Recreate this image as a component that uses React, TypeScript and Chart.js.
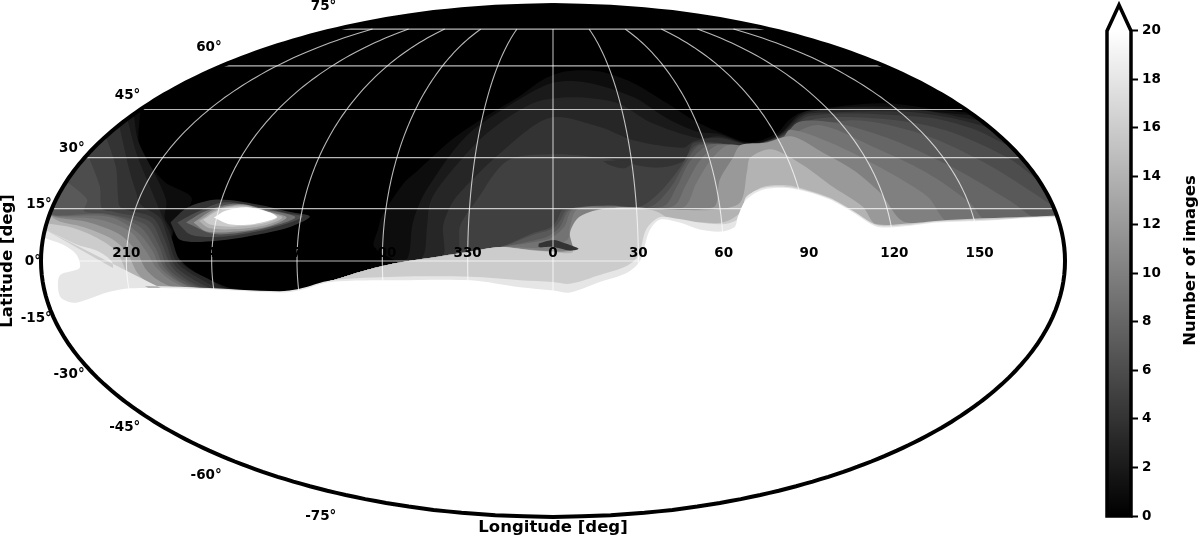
import React, { useEffect, useRef } from "react";
import { Chart, registerables } from "chart.js";

Chart.register(...registerables);

type LL = [number, number];

// ---- tick values ----
const parallelLats = [75, 60, 45, 30, 15, 0, -15, -30, -45, -60, -75];
const meridianLons = [-150, -120, -90, -60, -30, 0, 30, 60, 90, 120, 150];
const meridianLabels = ["210", "240", "270", "300", "330", "0", "30", "60", "90", "120", "150"];
const colorbarTop = 20;
const colorbarArrowTip = 21.07;

// ---- shared stretches of the contours: [longitude, latitude] ----
const holeFloor: LL[] = [[-103, -9], [-91, -8.4], [-79, -5.8], [-67, -2.9], [-55, -0.6]];
const bandTop: LL[] = [[-42, 1.1], [-30, 2.6], [-18.5, 4]];

// ---- contour lines: the count is >= value everywhere south of each line ----
const level0: LL[] = [[-180, 90], [180, 90]];
const level1: LL[] = [[-180, 45], [-162, 33], [-144, 23], [-131, 18], [-134, 10], [-134.5, 6.6], [-135.9, 2.6], [-134, -1.2], [-128.8, -4], [-122.8, -6.3], [-110, -8.2], ...holeFloor, [-63, 4], [-62, 9], [-61, 13], [-55, 22.5], [-51, 26], [-41, 35], [-30, 42], [-16, 49], [-5, 55], [7, 58], [24, 58], [39, 54], [51, 47], [59, 41.6], [67, 38], [78, 34.6], [91, 37.5], [98, 41], [107, 44], [126, 46], [149, 47], [167, 45], [180, 44]];
const level2: LL[] = [[-180, 43.5], [-165, 35], [-146, 23], [-139.7, 17], [-138.5, 12.4], [-134.9, 8.4], [-134.8, 4.6], [-130, -0.6], [-124.3, -4], [-112, -8.4], ...holeFloor, [-51, 1], [-50, 10], [-48.5, 15.6], [-46, 21], [-35, 36.5], [-16, 48], [0, 54], [17, 54], [37, 49], [48.5, 42], [58.6, 38], [67, 37.2], [78.2, 34.2], [91.2, 37], [107, 43.8], [125, 45.6], [150, 45.8], [168, 44], [180, 43]];
const level3: LL[] = [[-180, 42], [-161, 31], [-150, 23], [-142.6, 16.2], [-139.2, 12.4], [-135.2, 7.5], [-130.6, -0.6], [-120.7, -5.5], [-114, -8.5], ...holeFloor, [-46, 1], [-44.7, 10], [-44.4, 16.7], [-41, 22.5], [-28, 36.5], [-9, 47], [9, 49], [29, 47], [40.5, 41], [58, 36], [67, 36.5], [78.2, 34], [91.2, 36.8], [107, 43.4], [125.5, 45.2], [161, 44.6], [176, 42], [180, 41.5]];
const level4: LL[] = [[-180, 40], [-159, 26], [-152, 19.6], [-148.7, 16.2], [-140.3, 12.4], [-136, 6.6], [-132, -0.6], [-123, -5.8], [-116, -8.5], ...holeFloor, [-39, 1], [-39, 10], [-37, 15.6], [-34, 19.6], [-20.5, 31.3], [-1.3, 42.3], [19.4, 39.4], [32, 35.3], [51, 33], [56, 35], [67, 36], [78.2, 33.9], [91.2, 36.6], [107, 43], [116, 44], [152, 44.3], [170, 42], [180, 39]];
const level5: LL[] = [[-180, 36.5], [-165, 27], [-158, 18.5], [-155.4, 15.3], [-142.8, 12.4], [-136.6, 5.5], [-133, -1.2], [-125.3, -6], [-118, -8.5], ...holeFloor, [-34, 2.4], [-33, 10], [-27.5, 17.6], [-17.6, 29], [-1, 31], [18, 30], [38, 27], [50, 29], [56, 34.5], [76.5, 33.8], [91.2, 36.4], [110, 43], [158, 42.5], [172, 39], [180, 33]];
const level6: LL[] = [[-180, 31], [-166.5, 21.4], [-162, 15], [-157.5, 14.1], [-143.4, 11.3], [-137.6, 4.6], [-134, -1.7], [-127.8, -6], [-120, -8.5], ...holeFloor, ...bandTop, [-7, 8], [-1, 9.5], [1.5, 11.8], [3.6, 14.7], [19.4, 16], [31.3, 15.6], [40, 20.5], [48, 27], [57, 34], [77, 33.6], [91.2, 36.2], [111, 42], [142, 41.8], [161, 38.2], [174.6, 30], [180, 23]];
const level7: LL[] = [[-180, 23], [-168.7, 17.6], [-168, 14.2], [-160, 13.6], [-145, 10.5], [-138.5, 4], [-135.5, -2], [-129, -6.2], [-121, -8.5], ...holeFloor, ...bandTop, [-7, 7.5], [0, 9.3], [2.5, 11.5], [5, 14.7], [19.4, 15.9], [35, 15.6], [43, 21], [50, 28], [58, 33.8], [77, 33.5], [91.2, 36], [125, 41.5], [149, 37.3], [165, 28], [180, 15.8]];
const level8: LL[] = [[-180, 13.5], [-177, 13], [-159.7, 13.3], [-146.6, 9.8], [-140, 3.8], [-136.6, -2], [-130.6, -6.3], [-122, -8.4], ...holeFloor, ...bandTop, [-9, 5.5], [-2, 7], [2.5, 9.8], [6, 14.7], [19.4, 15.6], [39.6, 15.6], [45.5, 21.4], [52.4, 29], [62, 34], [78, 33.4], [91.2, 35.8], [103, 41], [119, 40.5], [136, 35.2], [151, 27], [166, 16.7], [172.6, 11.9], [180, 12.6]];
const level9: LL[] = [[-180, 13.4], [-177, 12.9], [-158, 12.6], [-147, 8.2], [-141, 3], [-138, -2], [-132, -6], [-124, -8.4], ...holeFloor, ...bandTop, [-8, 5.2], [-1, 6.5], [4, 9.8], [7, 14.7], [19.4, 15.6], [43, 15.6], [49, 22], [56, 29], [65, 33.8], [78.5, 33.2], [91.2, 35.5], [110, 40], [125, 33.7], [140, 25.5], [150.5, 16.7], [154.5, 11.4], [180, 11.4]];
const level10: LL[] = [[-180, 13.3], [-177, 12.7], [-161.4, 11.8], [-149.7, 8.4], [-143, 2.6], [-139.4, -2], [-133.8, -6], [-126, -8.4], ...holeFloor, ...bandTop, [-4.6, 3.8], [5, 6], [6, 9.8], [8.6, 14.7], [19.4, 15.5], [46.7, 15.3], [53, 22.5], [60, 29], [69, 33.8], [79, 33], [91, 35.2], [97, 38.5], [110, 34.5], [123.6, 27], [136, 18.5], [141, 11], [180, 11]];
const level12: LL[] = [[-180, 13.2], [-177, 12.4], [-165, 11], [-153, 7.5], [-146.4, 2.6], [-143, -2.6], [-138.3, -6], [-130, -8.4], ...holeFloor, ...bandTop, [-7, 3.2], [7, 3.2], [8.5, 9], [13.2, 13.8], [19.4, 15.2], [57.4, 15.3], [61.8, 23.4], [69.2, 30], [74, 33.8], [84, 34.5], [96, 36.5], [104, 32], [113, 26.2], [119.3, 19.6], [125.7, 11], [180, 10.8]];
const level14: LL[] = [[-180, 13], [-175.5, 11.3], [-167, 9.8], [-156.4, 6.6], [-150, 2.6], [-146.4, -3.2], [-143, -6], [-133, -8.4], ...holeFloor, ...bandTop, [-7, 3], [7, 3], [8.4, 6], [15.7, 12.7], [23, 15.3], [44.4, 14.7], [57.3, 14.7], [67.5, 16.7], [73, 26.2], [75.8, 30], [85.3, 32.5], [94.8, 27.7], [102, 21.9], [111.4, 15.6], [115, 10.5], [180, 10.5]];
const level16: LL[] = [[-180, 10.8], [-170.4, 9.5], [-161, 6.6], [-153.5, 2.6], [-150, -3.2], [-148, -6.9], [-136, -8.4], ...holeFloor, [-42, 1], [-30, 2.5], [-18.5, 4], [-7, 3], [0, 2.6], [7, 2.6], [6, 8], [9.6, 12.7], [19.4, 15], [35.8, 14.5], [44, 11], [52, 11], [60.4, 11], [67, 13.8], [70, 18], [77, 21.3], [86, 21.8], [92.7, 20.5], [100.3, 18.2], [107.6, 14.4], [115, 10.4], [125.6, 10.7], [142.4, 11.8], [172.6, 12.7], [180, 13]];
const level18: LL[] = [[-180, 9], [-174, 6.9], [-167.5, 4.6], [-159.5, 2.6], [-155, -0.3], [-155, -3.5], [-157, -8.4], [-150, -7.2], [-125, -7.6], [-97, -8.6], [-90, -8], [-78, -5.5], [-55, -4.5], [-29, -4.5], [-11.6, -5.5], [0, -6], [6, -6.5], [16.5, -4], [25.7, -1.5], [30, 1.5], [33, 9], [38, 12.5], [45, 12], [52, 11], [60, 10.5], [65, 11.5], [68, 14], [70, 18.3], [77, 21], [86, 21.3], [92.7, 20.2], [100.3, 18], [107.6, 14.2], [115, 10.2], [125.6, 10.3], [136.5, 11.3], [154.4, 11.8], [172.6, 12.6], [180, 12.8]];
const level20: LL[] = [[-180, 6.6], [-172.5, 4.6], [-167.5, 1.7], [-166.5, -2], [-173.5, -4], [-175, -7.8], [-174.6, -10.7], [-170, -11.9], [-158, -9], [-149.3, -7.8], [-124.6, -8], [-97, -9], [-89.8, -8.4], [-78.5, -6], [-55, -5.5], [-29, -5.5], [-11.6, -7.5], [0, -8.4], [6, -9], [16.5, -6], [25.7, -3.5], [30.6, 0], [34, 8.4], [37.9, 11.8], [45, 11], [52, 9], [59.7, 8.4], [64.5, 9.8], [66, 12.7], [70, 17.6], [76.8, 20.5], [85.9, 21], [92.7, 19.9], [100.3, 17.6], [107.6, 13.8], [115, 9.8], [125.6, 10], [136.5, 11], [154.4, 11.5], [172.6, 12.4], [180, 12.5]];

const contourValues = [0, 1, 2, 3, 4, 5, 6, 7, 8, 9, 10, 12, 14, 16, 18, 20];
const contourLines = [level0, level1, level2, level3, level4, level5, level6, level7, level8, level9, level10, level12, level14, level16, level18, level20];

// ---- closed islands painted over the contours ----
const smear3: LL[] = [[-136, 11], [-131.4, 15.3], [-121.6, 17.6], [-106.6, 16.2], [-94, 14], [-86.8, 12.7], [-93, 9.8], [-104.6, 7.5], [-118.4, 5.8], [-131.4, 6]];
const smear6: LL[] = [[-133.6, 11], [-127.5, 14], [-119.2, 16.8], [-106.5, 15.6], [-95, 13.6], [-89.3, 12.7], [-94.4, 10.7], [-104.7, 8.4], [-117.5, 6.9], [-128, 7.5]];
const smear9: LL[] = [[-130.5, 11], [-124.5, 14.3], [-115, 16.4], [-104, 14.8], [-92, 12.6], [-97.5, 10.4], [-108, 8.4], [-120, 7.7]];
const smear12: LL[] = [[-127.8, 11], [-121.8, 14.7], [-111.6, 16.2], [-101.3, 14], [-95, 12.4], [-100.5, 10], [-111.9, 8.4], [-122.5, 8.4]];
const smear14: LL[] = [[-126, 11.4], [-120.5, 14.7], [-111.6, 15.9], [-101.3, 13.9], [-96.5, 12.4], [-101.7, 10.3], [-112.7, 9.1], [-122, 9.4]];
const smear16: LL[] = [[-124.6, 11.8], [-119.5, 14.7], [-111.6, 15.6], [-101.3, 13.8], [-98.2, 12.4], [-103, 10.7], [-113.6, 9.8], [-121.8, 10.4]];
const smear20: LL[] = [[-121, 12.4], [-117.5, 14.4], [-110, 15.4], [-101, 13.8], [-98.5, 12.4], [-106, 10.6], [-115, 10.5]];
const centerArc: LL[] = [[-5, 5], [0, 6], [4.5, 5], [9, 3.5], [6, 3], [0, 4], [-5, 4]];
const domePatch: LL[] = [[19, 29], [30.6, 29], [27, 26.8], [21.7, 27.7]];

const islandValues = [4, 6, 9, 12, 14, 16, 20, 4, 4];
const islands = [smear3, smear6, smear9, smear12, smear14, smear16, smear20, centerArc, domePatch];

// ---- projection ----
function mollweide(lon: number, lat: number) {
  if (Math.abs(lat) >= 90) return { x: 0, y: Math.sign(lat) * 90 };
  const target = Math.PI * Math.sin((lat * Math.PI) / 180);
  let t = (lat * Math.PI) / 180;
  for (let i = 0; i < 30; i++) {
    t -= (2 * t + Math.sin(2 * t) - target) / (2 + 2 * Math.cos(2 * t));
  }
  return { x: lon * Math.cos(t), y: 90 * Math.sin(t) };
}

function meridianPath(lon: number, from: number, to: number): LL[] {
  const out: LL[] = [];
  const n = Math.ceil(Math.abs(to - from) / 2);
  for (let i = 0; i <= n; i++) out.push([lon, from + ((to - from) * i) / n]);
  return out;
}

function parallelPath(lat: number): LL[] {
  const out: LL[] = [];
  for (let lon = -180; lon <= 180; lon += 5) out.push([lon, lat]);
  return out;
}

function southOf(curve: LL[]): LL[] {
  const first = curve[0];
  const last = curve[curve.length - 1];
  return [...curve, ...meridianPath(180, last[1], -90), ...meridianPath(-180, -90, first[1])];
}

const gray = (v: number) => {
  const g = Math.round(Math.min(20, v) * 12.75);
  return `rgb(${g},${g},${g})`;
};

const toXY = (pts: LL[]) => pts.map(([a, b]) => mollweide(a, b));

const FONT = '"DejaVu Sans"';
const GRID = "rgba(255,255,255,0.72)";

const mapLabels = {
  id: "mapLabels",
  afterDatasetsDraw(chart: any) {
    const { ctx, scales } = chart;
    const px = (lon: number, lat: number) => {
      const p = mollweide(lon, lat);
      return [scales.x.getPixelForValue(p.x), scales.y.getPixelForValue(p.y)];
    };
    ctx.save();
    ctx.fillStyle = "#000";
    ctx.font = `bold 13.5px ${FONT}`;
    ctx.textBaseline = "middle";
    ctx.textAlign = "right";
    parallelLats.forEach((lat) => {
      const [x, y] = px(-180, lat);
      ctx.fillText(`${lat}°`, x, y - (lat / 75) * 23.5 + 0.5);
    });
    ctx.textAlign = "center";
    meridianLons.forEach((lon, i) => {
      const [x, y] = px(lon, 0);
      ctx.fillText(meridianLabels[i], x, y - 7.5);
    });
    ctx.font = `bold 16.5px ${FONT}`;
    const [cx] = px(0, 0);
    ctx.fillText("Longitude [deg]", cx, 528);
    const [, cy] = px(0, 0);
    ctx.translate(8, cy);
    ctx.rotate(-Math.PI / 2);
    ctx.fillText("Latitude [deg]", 0, 0);
    ctx.restore();
  },
};

const colorbarTitle = {
  id: "colorbarTitle",
  afterDraw(chart: any) {
    const { ctx, scales } = chart;
    ctx.save();
    ctx.fillStyle = "#000";
    ctx.font = `bold 16.5px ${FONT}`;
    ctx.textAlign = "center";
    ctx.textBaseline = "middle";
    ctx.translate(131, scales.y.getPixelForValue(colorbarArrowTip / 2));
    ctx.rotate(-Math.PI / 2);
    ctx.fillText("Number of images", 0, 0);
    ctx.restore();
  },
};

export default function App() {
  const mapRef = useRef<HTMLCanvasElement>(null);
  const barRef = useRef<HTMLCanvasElement>(null);

  useEffect(() => {
    const fills = [
      ...contourLines.map((c, i) => ({ pts: southOf(c), v: contourValues[i] })),
      ...islands.map((c, i) => ({ pts: [...c, c[0]], v: islandValues[i] })),
    ];
    const datasets: any[] = fills.map((f) => ({
      data: toXY(f.pts),
      showLine: true,
      fill: "shape",
      backgroundColor: gray(f.v),
      borderWidth: 0,
      pointRadius: 0,
      tension: 0.3,
    }));
    parallelLats.forEach((lat) => {
      datasets.push({ data: toXY(parallelPath(lat)), showLine: true, fill: false, borderColor: GRID, borderWidth: 1.1, pointRadius: 0, tension: 0.01 });
    });
    meridianLons.forEach((lon) => {
      datasets.push({ data: toXY(meridianPath(lon, -75, 75)), showLine: true, fill: false, borderColor: GRID, borderWidth: 1.1, pointRadius: 0, tension: 0.01 });
    });
    datasets.push({
      data: toXY([...meridianPath(180, 90, -90), ...meridianPath(-180, -90, 90)]),
      showLine: true,
      fill: false,
      borderColor: "#000",
      borderWidth: 4,
      pointRadius: 0,
      clip: false,
      tension: 0.01,
    });
    const total = datasets.length;
    datasets.forEach((d, i) => (d.order = total - i));

    const map = new Chart(mapRef.current!, {
      type: "scatter",
      data: { datasets },
      options: {
        responsive: false,
        animation: false,
        layout: { padding: { left: 35.3, right: 129.3, top: 2.2, bottom: 17.2 } },
        plugins: { legend: { display: false }, tooltip: { enabled: false } },
        events: [],
        scales: {
          x: { type: "linear", min: -182, max: 182, display: false },
          y: { type: "linear", min: -91, max: 91, display: false },
        },
      },
      plugins: [mapLabels],
    } as any);

    const ramp = (c: any) => {
      const { chart } = c;
      if (!chart.chartArea) return "#888";
      const y = chart.scales.y;
      const g = chart.ctx.createLinearGradient(0, y.getPixelForValue(0), 0, y.getPixelForValue(colorbarTop));
      g.addColorStop(0, "#000");
      g.addColorStop(1, "#fff");
      return g;
    };
    const frame = [
      { x: 0, y: 0 },
      { x: 0, y: colorbarTop },
      { x: 0.5, y: colorbarArrowTip },
      { x: 1, y: colorbarTop },
      { x: 1, y: 0 },
      { x: 0, y: 0 },
    ];
    const bar = new Chart(barRef.current!, {
      type: "scatter",
      data: {
        datasets: [
          {
            data: frame,
            showLine: true,
            fill: false,
            borderColor: "#000",
            borderWidth: 3.5,
            pointRadius: 0,
            clip: false,
            order: 1,
            borderJoinStyle: "miter",
            borderCapStyle: "square",
          },
          {
            data: [{ x: 0, y: 0 }, { x: 0, y: colorbarTop }, { x: 1, y: colorbarTop }, { x: 1, y: 0 }, { x: 0, y: 0 }],
            showLine: true,
            fill: "shape",
            backgroundColor: ramp,
            borderWidth: 0,
            pointRadius: 0,
            order: 2,
          },
          {
            data: frame.slice(1, 4),
            showLine: true,
            fill: "shape",
            backgroundColor: "#fff",
            borderWidth: 0,
            pointRadius: 0,
            order: 3,
          },
        ],
      },
      options: {
        responsive: false,
        animation: false,
        layout: { padding: { left: 47, right: 0, top: 5, bottom: 21 } },
        plugins: { legend: { display: false }, tooltip: { enabled: false } },
        events: [],
        scales: {
          x: { type: "linear", min: 0, max: 1, display: false },
          y: {
            type: "linear",
            position: "right",
            min: 0,
            max: colorbarArrowTip,
            afterFit: (s: any) => {
              s.width = 69;
              s.paddingTop = 0;
              s.paddingBottom = 0;
            },
            border: { display: false },
            grid: { drawOnChartArea: false, drawTicks: true, tickLength: 7, tickWidth: 2, color: "#000" },
            ticks: {
              stepSize: 2,
              includeBounds: false,
              color: "#000",
              padding: 4,
              font: { family: FONT, weight: "bold", size: 13.5 },
            },
          },
        },
      },
      plugins: [colorbarTitle],
    } as any);

    return () => {
      map.destroy();
      bar.destroy();
    };
  }, []);

  return (
    <div style={{ position: "fixed", left: 0, top: 0, width: 1200, height: 537, background: "#fff", overflow: "hidden" }}>
      <canvas ref={mapRef} width={1200} height={537} style={{ position: "absolute", left: 0, top: 0, width: 1200, height: 537 }} />
      <canvas ref={barRef} width={140} height={537} style={{ position: "absolute", left: 1060, top: 0, width: 140, height: 537 }} />
    </div>
  );
}
